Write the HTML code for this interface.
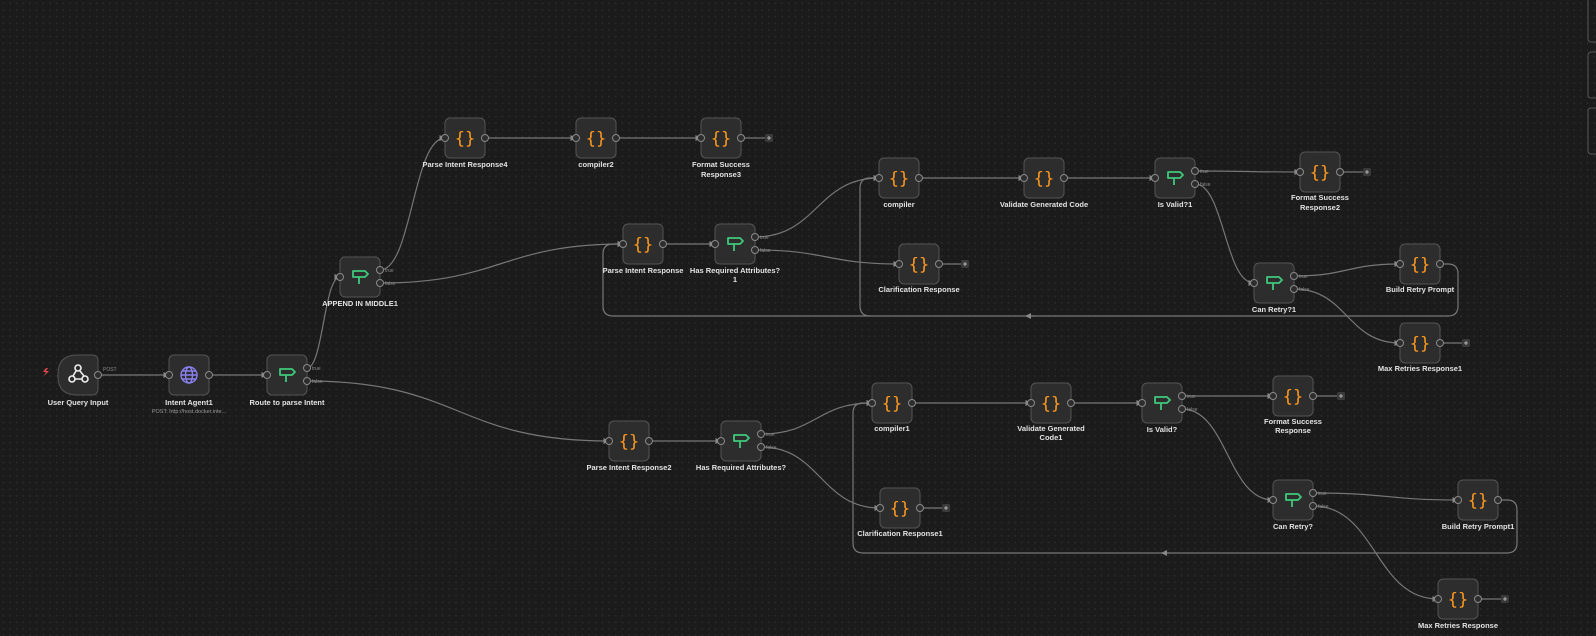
<!DOCTYPE html>
<html><head><meta charset="utf-8"><style>
html,body{margin:0;padding:0;background:#1b1b1b;}
body{width:1596px;height:636px;overflow:hidden;position:relative;
background-color:#1b1b1b;
background-image:radial-gradient(circle,#2c2c2c 0.7px,transparent 1px);
background-size:6.67px 6.67px;}
svg{position:absolute;left:0;top:0;}
.lbl{font-family:"Liberation Sans",sans-serif;font-size:7.5px;font-weight:bold;fill:#e2e2e2;text-anchor:middle;}
.sub{font-family:"Liberation Sans",sans-serif;font-size:5.5px;fill:#9a9a9a;text-anchor:middle;}
.hl{font-family:"Liberation Sans",sans-serif;font-size:5px;fill:#8a8a8a;}
.e{fill:none;stroke:#777;stroke-width:1.2;}
.n{fill:#2d2d2d;stroke:#545454;stroke-width:1;}
.h{fill:#2d2d2d;stroke:#8a8a8a;stroke-width:1;}
.br{font-family:"DejaVu Sans Mono","Liberation Mono",monospace;font-size:17px;fill:#ff9a1f;text-anchor:middle;}
</style></head><body>
<svg width="1596" height="636" viewBox="0 0 1596 636">
<defs>
<marker id="a" markerWidth="6" markerHeight="6" refX="5.5" refY="3" orient="auto" markerUnits="userSpaceOnUse"><path d="M0,0 L6,3 L0,6 z" fill="#888"/></marker>
<marker id="m" markerWidth="6" markerHeight="6" refX="3" refY="3" orient="auto" markerUnits="userSpaceOnUse"><path d="M0,0 L6,3 L0,6 z" fill="#888"/></marker>
<g id="router"><path d="M-7,-5 H5 L8,-2 L5,1 H-7 Z M-1,1 V8" fill="none" stroke="#3ec97a" stroke-width="1.8" stroke-linejoin="round"/></g>
<g id="plus"><rect x="-4" y="-4" width="8" height="8" rx="1.5" fill="#3a3a3a"/><path d="M-2,0 H2 M0,-2 V2" stroke="#ccc" stroke-width="0.8"/></g>
</defs>

<!-- right panel edges -->
<rect x="1588" y="-4" width="20" height="46" rx="3" fill="none" stroke="#555"/>
<rect x="1588" y="52" width="20" height="46" rx="3" fill="none" stroke="#555"/>
<rect x="1588" y="108" width="20" height="46" rx="3" fill="none" stroke="#555"/>

<!-- edges -->
<g class="e">
<path d="M98 375 H169" marker-end="url(#a)"/>
<path d="M209 375 H267" marker-end="url(#a)"/>
<path d="M307 368 C323 368,324 277,340 277" marker-end="url(#a)"/>
<path d="M307 381 C460 381,456 441,609 441" marker-end="url(#a)"/>
<path d="M380 270 C412 270,413 138,445 138" marker-end="url(#a)"/>
<path d="M380 283 C500 283,503 244,623 244" marker-end="url(#a)"/>
<path d="M485 138 H576" marker-end="url(#a)"/>
<path d="M616 138 H701" marker-end="url(#a)"/>
<path d="M741 138 H765"/>
<path d="M663 244 H715" marker-end="url(#a)"/>
<path d="M755 237 C817 237,817 178,879 178" marker-end="url(#a)"/>
<path d="M755 250 C827 250,827 264,899 264" marker-end="url(#a)"/>
<path d="M939 264 H961"/>
<path d="M919 178 H1024" marker-end="url(#a)"/>
<path d="M1064 178 H1155" marker-end="url(#a)"/>
<path d="M1195 171 C1247 171,1248 172,1300 172" marker-end="url(#a)"/>
<path d="M1340 172 H1363"/>
<path d="M1195 184 C1224 184,1225 283,1254 283" marker-end="url(#a)"/>
<path d="M1294 276 C1347 276,1347 264,1400 264" marker-end="url(#a)"/>
<path d="M1294 289 C1347 289,1347 343,1400 343" marker-end="url(#a)"/>
<path d="M1440 343 H1462"/>
<path d="M1440 264 H1448 Q1458 264 1458 274 V306 Q1458 316 1448 316 H613 Q603 316 603 306 V254 Q603 244 613 244 H623" marker-end="url(#a)"/>
<path d="M870 316 Q860 316 860 306 V188 Q860 178 870 178 H879" marker-end="url(#a)"/>
<path d="M1034 316 H1028" marker-end="url(#m)"/>
<path d="M649 441 H721" marker-end="url(#a)"/>
<path d="M761 434 C816 434,817 403,872 403" marker-end="url(#a)"/>
<path d="M761 447 C820 447,821 508,880 508" marker-end="url(#a)"/>
<path d="M920 508 H942"/>
<path d="M912 403 H1031" marker-end="url(#a)"/>
<path d="M1071 403 H1142" marker-end="url(#a)"/>
<path d="M1182 396 C1227 396,1228 396,1273 396" marker-end="url(#a)"/>
<path d="M1313 396 H1337"/>
<path d="M1182 409 C1227 409,1228 500,1273 500" marker-end="url(#a)"/>
<path d="M1313 493 C1388 493,1387 500,1458 500" marker-end="url(#a)"/>
<path d="M1313 506 C1376 506,1375 599,1438 599" marker-end="url(#a)"/>
<path d="M1478 599 H1501"/>
<path d="M1498 500 H1507 Q1517 500 1517 510 V543 Q1517 553 1507 553 H863 Q853 553 853 543 V413 Q853 403 863 403 H872" marker-end="url(#a)"/>
<path d="M1170 553 H1164" marker-end="url(#m)"/>
</g>

<!-- plus buttons -->
<use href="#plus" x="769" y="138"/><use href="#plus" x="965" y="264"/><use href="#plus" x="1367" y="172"/>
<use href="#plus" x="1466" y="343"/><use href="#plus" x="946" y="508"/><use href="#plus" x="1341" y="396"/><use href="#plus" x="1505" y="599"/>

<!-- trigger node -->
<path class="n" d="M77 355 H92 Q98 355 98 361 V389 Q98 395 92 395 H77 Q58 395 58 376 V374 Q58 355 77 355 Z"/>
<g fill="none" stroke="#eee" stroke-width="1.6"><circle cx="78" cy="368" r="3"/><circle cx="72" cy="379" r="3"/><circle cx="85" cy="379" r="3"/><path d="M76 371 L73 376 M75 379 H82 M80 371 L84 376"/></g>
<path d="M46 368 L43 372 H46 L44 376 L49 371 H46 L48 368Z" fill="#e04848"/>
<circle class="h" cx="98" cy="375" r="3.5"/>
<text class="hl" x="103" y="371">POST</text>
<text class="lbl" x="78" y="405">User Query Input</text>

<!-- Intent Agent1 -->
<rect class="n" x="169" y="355" width="40" height="40" rx="5"/>
<g fill="none" stroke="#8a80f0" stroke-width="1.4"><circle cx="189" cy="375" r="8"/><ellipse cx="189" cy="375" rx="3.5" ry="8"/><path d="M181 375 H197 M182.5 371 H195.5 M182.5 379 H195.5"/></g>
<circle class="h" cx="169" cy="375" r="3.5"/><circle class="h" cx="209" cy="375" r="3.5"/>
<text class="lbl" x="189" y="405">Intent Agent1</text>
<text class="sub" x="189" y="413">POST: http://host.docker.inte...</text>

<!-- router nodes -->
<g>
<rect class="n" x="267" y="355" width="40" height="40" rx="5"/><use href="#router" x="287" y="374"/>
<circle class="h" cx="267" cy="375" r="3.5"/><circle class="h" cx="307" cy="368" r="3.5"/><circle class="h" cx="307" cy="381" r="3.5"/>
<text class="hl" x="312" y="370">true</text><text class="hl" x="312" y="383">false</text>
<text class="lbl" x="287" y="405">Route to parse Intent</text>

<rect class="n" x="340" y="257" width="40" height="40" rx="5"/><use href="#router" x="360" y="276"/>
<circle class="h" cx="340" cy="277" r="3.5"/><circle class="h" cx="380" cy="270" r="3.5"/><circle class="h" cx="380" cy="283" r="3.5"/>
<text class="hl" x="385" y="272">true</text><text class="hl" x="385" y="285">false</text>
<text class="lbl" x="360" y="306">APPEND IN MIDDLE1</text>

<rect class="n" x="715" y="224" width="40" height="40" rx="5"/><use href="#router" x="735" y="243"/>
<circle class="h" cx="715" cy="244" r="3.5"/><circle class="h" cx="755" cy="237" r="3.5"/><circle class="h" cx="755" cy="250" r="3.5"/>
<text class="hl" x="760" y="239">true</text><text class="hl" x="760" y="252">false</text>
<text class="lbl" x="735" y="273">Has Required Attributes?</text><text class="lbl" x="735" y="282">1</text>

<rect class="n" x="1155" y="158" width="40" height="40" rx="5"/><use href="#router" x="1175" y="177"/>
<circle class="h" cx="1155" cy="178" r="3.5"/><circle class="h" cx="1195" cy="171" r="3.5"/><circle class="h" cx="1195" cy="184" r="3.5"/>
<text class="hl" x="1200" y="173">true</text><text class="hl" x="1200" y="186">false</text>
<text class="lbl" x="1175" y="207">Is Valid?1</text>

<rect class="n" x="1254" y="263" width="40" height="40" rx="5"/><use href="#router" x="1274" y="282"/>
<circle class="h" cx="1254" cy="283" r="3.5"/><circle class="h" cx="1294" cy="276" r="3.5"/><circle class="h" cx="1294" cy="289" r="3.5"/>
<text class="hl" x="1299" y="278">true</text><text class="hl" x="1299" y="291">false</text>
<text class="lbl" x="1274" y="312">Can Retry?1</text>

<rect class="n" x="721" y="421" width="40" height="40" rx="5"/><use href="#router" x="741" y="440"/>
<circle class="h" cx="721" cy="441" r="3.5"/><circle class="h" cx="761" cy="434" r="3.5"/><circle class="h" cx="761" cy="447" r="3.5"/>
<text class="hl" x="766" y="436">true</text><text class="hl" x="766" y="449">false</text>
<text class="lbl" x="741" y="470">Has Required Attributes?</text>

<rect class="n" x="1142" y="383" width="40" height="40" rx="5"/><use href="#router" x="1162" y="402"/>
<circle class="h" cx="1142" cy="403" r="3.5"/><circle class="h" cx="1182" cy="396" r="3.5"/><circle class="h" cx="1182" cy="409" r="3.5"/>
<text class="hl" x="1187" y="398">true</text><text class="hl" x="1187" y="411">false</text>
<text class="lbl" x="1162" y="432">Is Valid?</text>

<rect class="n" x="1273" y="480" width="40" height="40" rx="5"/><use href="#router" x="1293" y="499"/>
<circle class="h" cx="1273" cy="500" r="3.5"/><circle class="h" cx="1313" cy="493" r="3.5"/><circle class="h" cx="1313" cy="506" r="3.5"/>
<text class="hl" x="1318" y="495">true</text><text class="hl" x="1318" y="508">false</text>
<text class="lbl" x="1293" y="529">Can Retry?</text>
</g>

<!-- code nodes -->
<g>
<rect class="n" x="445" y="118" width="40" height="40" rx="5"/><text class="br" x="465" y="144">{}</text>
<circle class="h" cx="445" cy="138" r="3.5"/><circle class="h" cx="485" cy="138" r="3.5"/>
<text class="lbl" x="465" y="167">Parse Intent Response4</text>

<rect class="n" x="576" y="118" width="40" height="40" rx="5"/><text class="br" x="596" y="144">{}</text>
<circle class="h" cx="576" cy="138" r="3.5"/><circle class="h" cx="616" cy="138" r="3.5"/>
<text class="lbl" x="596" y="167">compiler2</text>

<rect class="n" x="701" y="118" width="40" height="40" rx="5"/><text class="br" x="721" y="144">{}</text>
<circle class="h" cx="701" cy="138" r="3.5"/><circle class="h" cx="741" cy="138" r="3.5"/>
<text class="lbl" x="721" y="167">Format Success</text><text class="lbl" x="721" y="177">Response3</text>

<rect class="n" x="879" y="158" width="40" height="40" rx="5"/><text class="br" x="899" y="184">{}</text>
<circle class="h" cx="879" cy="178" r="3.5"/><circle class="h" cx="919" cy="178" r="3.5"/>
<text class="lbl" x="899" y="207">compiler</text>

<rect class="n" x="1024" y="158" width="40" height="40" rx="5"/><text class="br" x="1044" y="184">{}</text>
<circle class="h" cx="1024" cy="178" r="3.5"/><circle class="h" cx="1064" cy="178" r="3.5"/>
<text class="lbl" x="1044" y="207">Validate Generated Code</text>

<rect class="n" x="1300" y="152" width="40" height="40" rx="5"/><text class="br" x="1320" y="178">{}</text>
<circle class="h" cx="1300" cy="172" r="3.5"/><circle class="h" cx="1340" cy="172" r="3.5"/>
<text class="lbl" x="1320" y="200">Format Success</text><text class="lbl" x="1320" y="210">Response2</text>

<rect class="n" x="623" y="224" width="40" height="40" rx="5"/><text class="br" x="643" y="250">{}</text>
<circle class="h" cx="623" cy="244" r="3.5"/><circle class="h" cx="663" cy="244" r="3.5"/>
<text class="lbl" x="643" y="273">Parse Intent Response</text>

<rect class="n" x="899" y="244" width="40" height="40" rx="5"/><text class="br" x="919" y="270">{}</text>
<circle class="h" cx="899" cy="264" r="3.5"/><circle class="h" cx="939" cy="264" r="3.5"/>
<text class="lbl" x="919" y="292">Clarification Response</text>

<rect class="n" x="1400" y="244" width="40" height="40" rx="5"/><text class="br" x="1420" y="270">{}</text>
<circle class="h" cx="1400" cy="264" r="3.5"/><circle class="h" cx="1440" cy="264" r="3.5"/>
<text class="lbl" x="1420" y="292">Build Retry Prompt</text>

<rect class="n" x="1400" y="323" width="40" height="40" rx="5"/><text class="br" x="1420" y="349">{}</text>
<circle class="h" cx="1400" cy="343" r="3.5"/><circle class="h" cx="1440" cy="343" r="3.5"/>
<text class="lbl" x="1420" y="371">Max Retries Response1</text>

<rect class="n" x="609" y="421" width="40" height="40" rx="5"/><text class="br" x="629" y="447">{}</text>
<circle class="h" cx="609" cy="441" r="3.5"/><circle class="h" cx="649" cy="441" r="3.5"/>
<text class="lbl" x="629" y="470">Parse Intent Response2</text>

<rect class="n" x="872" y="383" width="40" height="40" rx="5"/><text class="br" x="892" y="409">{}</text>
<circle class="h" cx="872" cy="403" r="3.5"/><circle class="h" cx="912" cy="403" r="3.5"/>
<text class="lbl" x="892" y="431">compiler1</text>

<rect class="n" x="1031" y="383" width="40" height="40" rx="5"/><text class="br" x="1051" y="409">{}</text>
<circle class="h" cx="1031" cy="403" r="3.5"/><circle class="h" cx="1071" cy="403" r="3.5"/>
<text class="lbl" x="1051" y="431">Validate Generated</text><text class="lbl" x="1051" y="440">Code1</text>

<rect class="n" x="1273" y="376" width="40" height="40" rx="5"/><text class="br" x="1293" y="402">{}</text>
<circle class="h" cx="1273" cy="396" r="3.5"/><circle class="h" cx="1313" cy="396" r="3.5"/>
<text class="lbl" x="1293" y="424">Format Success</text><text class="lbl" x="1293" y="433">Response</text>

<rect class="n" x="880" y="488" width="40" height="40" rx="5"/><text class="br" x="900" y="514">{}</text>
<circle class="h" cx="880" cy="508" r="3.5"/><circle class="h" cx="920" cy="508" r="3.5"/>
<text class="lbl" x="900" y="536">Clarification Response1</text>

<rect class="n" x="1458" y="480" width="40" height="40" rx="5"/><text class="br" x="1478" y="506">{}</text>
<circle class="h" cx="1458" cy="500" r="3.5"/><circle class="h" cx="1498" cy="500" r="3.5"/>
<text class="lbl" x="1478" y="529">Build Retry Prompt1</text>

<rect class="n" x="1438" y="579" width="40" height="40" rx="5"/><text class="br" x="1458" y="605">{}</text>
<circle class="h" cx="1438" cy="599" r="3.5"/><circle class="h" cx="1478" cy="599" r="3.5"/>
<text class="lbl" x="1458" y="628">Max Retries Response</text>
</g>
</svg>
</body></html>
